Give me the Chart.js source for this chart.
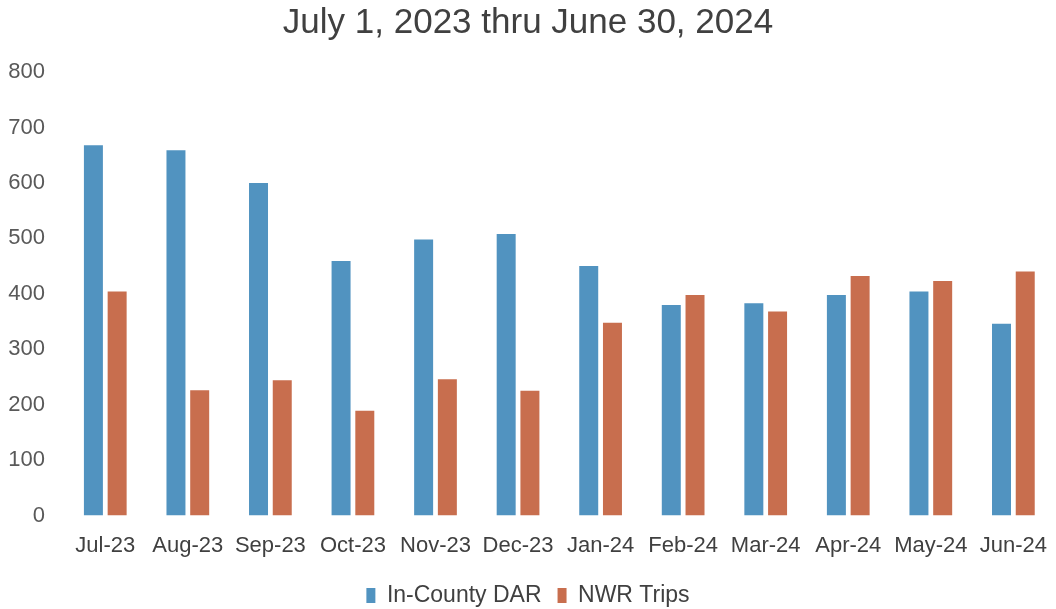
<!DOCTYPE html>
<html>
<head>
<meta charset="utf-8">
<title>July 1, 2023 thru June 30, 2024</title>
<script src="https://cdn.jsdelivr.net/npm/chart.js@4/dist/chart.umd.min.js"></script>
<style>
  html, body { margin: 0; padding: 0; background: #fff; }
  #wrap { width: 1056px; height: 609px; }
</style>
</head>
<body>
<div id="wrap"><canvas id="tripsChart"></canvas></div>
<script>
const months = ['Jul-23', 'Aug-23', 'Sep-23', 'Oct-23', 'Nov-23', 'Dec-23',
                'Jan-24', 'Feb-24', 'Mar-24', 'Apr-24', 'May-24', 'Jun-24'];
const inCountyDar = [668, 659, 600, 459, 498, 508, 450, 380, 383, 398, 404, 346];
const nwrTrips = [404, 226, 244, 189, 246, 225, 348, 398, 368, 432, 423, 440];
const yTicks = [0, 100, 200, 300, 400, 500, 600, 700, 800];

const fontFamily = '"Liberation Sans", Arial, sans-serif';

const ctx = document.getElementById('tripsChart').getContext('2d');
new Chart(ctx, {
    type: 'bar',
    data: {
        labels: months,
        datasets: [{
            label: 'In-County DAR',
            data: inCountyDar,
            backgroundColor: '#5193c0',
            borderWidth: 0
        }, {
            label: 'NWR Trips',
            data: nwrTrips,
            backgroundColor: '#c86e4e',
            borderWidth: 0
        }]
    },
    options: {
        responsive: true,
        maintainAspectRatio: false,
        animation: false,
        layout: {
            padding: { left: 0, right: 0, top: 2, bottom: -8 }
        },
        datasets: {
            bar: {
                categoryPercentage: 0.575,
                barPercentage: 0.8
            }
        },
        plugins: {
            title: {
                display: true,
                text: 'July 1, 2023 thru June 30, 2024',
                color: '#404040',
                font: { family: fontFamily, size: 35, weight: 'normal' },
                padding: { top: 0, bottom: 28 }
            },
            legend: {
                position: 'bottom',
                labels: {
                    color: '#404040',
                    font: { family: fontFamily, size: 23 },
                    boxWidth: 9,
                    boxHeight: 15,
                    padding: 16
                }
            },
            tooltip: { enabled: false }
        },
        scales: {
            x: {
                grid: { display: false },
                border: { display: false },
                ticks: {
                    color: '#404040',
                    font: { family: fontFamily, size: 22 },
                    padding: 9,
                    maxRotation: 0,
                    autoSkip: false
                }
            },
            y: {
                min: 0,
                max: 800,
                grid: { display: false },
                border: { display: false },
                afterBuildTicks: axis => {
                    axis.ticks = yTicks.map(v => ({ value: v }));
                },
                afterFit: axis => {
                    axis.width = 64;
                },
                ticks: {
                    color: '#595959',
                    font: { family: fontFamily, size: 22 },
                    padding: 11
                }
            }
        }
    }
});
</script>
</body>
</html>
